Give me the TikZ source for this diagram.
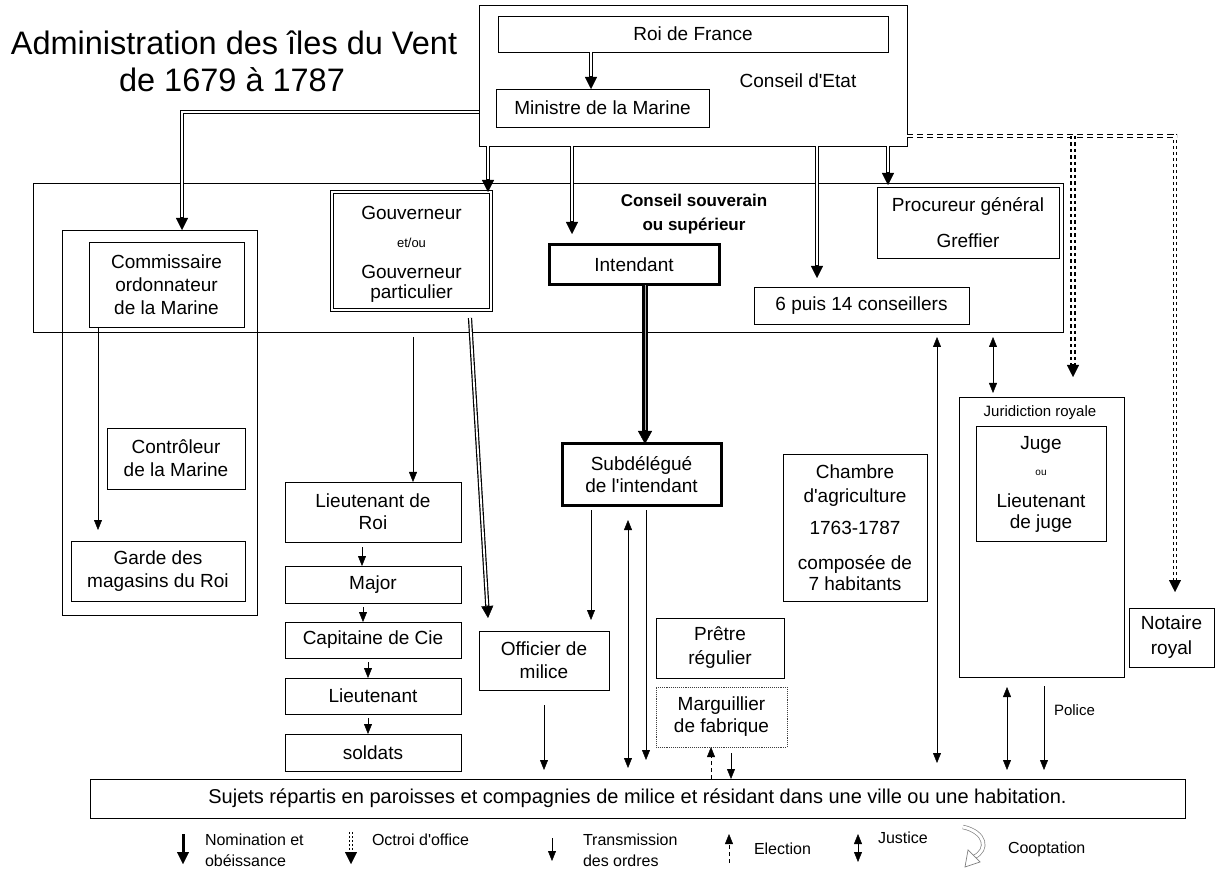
\documentclass[tikz,border=0pt]{standalone}
\usepackage{fontspec}
\setmainfont{Liberation Sans}[Ligatures=TeXOff]
\usetikzlibrary{arrows.meta,calc}
\begin{document}
\begin{tikzpicture}[x=1pt,y=-1pt,
  every node/.style={inner sep=0pt,outer sep=0pt},
  txt/.style={align=center,font=\fontsize{19}{22}\selectfont},
  box/.style={txt,draw,line width=0.9pt,fill=white},
  boldbox/.style={box,line width=3pt},
  dblbox/.style={box,double,double distance=1.8pt,line width=0.8pt},
  dotbox/.style={box,densely dotted,draw=black!75,line width=0.9pt},
  frame/.style={draw,line width=0.9pt},
  smalltxt/.style={align=center,font=\fontsize{13}{15}\selectfont},
  tinytxt/.style={align=center,font=\fontsize{10}{12}\selectfont},
  midtxt/.style={align=center,font=\fontsize{15}{17}\selectfont},
  leg/.style={align=left,font=\fontsize{16}{21}\selectfont},
  HeadBig/.tip={Triangle[length=12pt,width=12pt,line width=0.4pt]},
  HeadHuge/.tip={Triangle[length=13pt,width=14pt,line width=0.4pt]},
  HeadSmall/.tip={Triangle[length=10pt,width=8pt,line width=0.4pt]},
  nom/.style={line width=4.2pt,-HeadBig,postaction={draw=white,line width=1.8pt,shorten >=12.5pt,arrows=-}},
  nomthick/.style={line width=5.6pt,-HeadHuge,postaction={draw=black!35,line width=1pt,shorten >=14pt,arrows=-}},
  octh/.style={line width=4pt,dash pattern=on 6pt off 4pt,postaction={draw=white,solid,line width=2pt}},
  octv/.style={line width=4pt,dash pattern=on 3pt off 3pt,-HeadBig,postaction={draw=white,solid,line width=2pt,shorten >=12.5pt,arrows=-}},
  octheavy/.style={line width=5.6pt,dash pattern=on 3.5pt off 3pt,-HeadBig,postaction={draw=white,solid,line width=1.3pt,shorten >=12.5pt,arrows=-}},
  tr/.style={line width=0.9pt,-HeadSmall},
  ju/.style={line width=0.9pt,HeadSmall-HeadSmall},
  el/.style={line width=0.9pt,dash pattern=on 4pt off 3pt,-HeadSmall},
]
\useasboundingbox[fill=white] (0,0) rectangle (1216,874);

% title
\node[anchor=base,font=\fontsize{32.5}{37}\selectfont] (title1) at (234,55) {Administration des îles du Vent};
\node[anchor=base,font=\fontsize{32.5}{37}\selectfont] (title2) at (232,92) {de 1679 à 1787};

% frames
\node[frame,minimum width=1030pt,minimum height=149pt] (conseilsouv) at (548,257.5) {};
\node[frame,minimum width=195pt,minimum height=385pt] (leftcol) at (159.5,422.5) {};
\node[frame,minimum width=165pt,minimum height=280pt] (juridiction) at (1041.5,537) {};

% top box
\node[box,minimum width=428pt,minimum height=141pt] (topbox) at (693,75.5) {};
\node[box,minimum width=390pt,minimum height=36pt] (roi) at (693,34) {Roi de France};
\node[box,minimum width=213pt,minimum height=38pt] (ministre) at (602.5,108) {Ministre de la Marine};
\node[txt] (cetat) at (798,81) {Conseil d'Etat};

% conseil souverain
\node[align=center,font=\bfseries\fontsize{17}{24}\selectfont] (cslabel) at (694,214) {Conseil souverain\\ou supérieur};
\node[box,minimum width=155pt,minimum height=85pt,font=\fontsize{19}{23}\selectfont] (commissaire) at (166.5,284.5) {Commissaire\\ordonnateur\\de la Marine};
\node[dblbox,minimum width=159pt,minimum height=118pt] (gouv) at (411.5,251) {};
\node[txt] (gouv1) at (411.5,213) {Gouverneur};
\node[smalltxt] (gouv2) at (411.5,243) {et/ou};
\node[align=center,font=\fontsize{19}{20}\selectfont] (gouv3) at (411.5,284) {Gouverneur\\particulier};
\node[boldbox,minimum width=170pt,minimum height=40pt] (intendant) at (634,265) {Intendant};
\node[box,minimum width=215pt,minimum height=37pt] (conseillers) at (861.5,305.5) {6 puis 14 conseillers};
\node[box,minimum width=182pt,minimum height=71pt,font=\fontsize{19}{36}\selectfont] (procureur) at (968,222.5) {Procureur général\\Greffier};

% left column
\node[box,minimum width=138pt,minimum height=61pt,font=\fontsize{19}{23}\selectfont] (controleur) at (176,458.5) {Contrôleur\\de la Marine};
\node[box,minimum width=174pt,minimum height=60pt,font=\fontsize{19}{23}\selectfont] (garde) at (158,571) {Garde des\\magasins du Roi};

% military chain
\node[box,minimum width=176pt,minimum height=60pt] (lieutroi) at (373,512) {Lieutenant de\\Roi};
\node[box,minimum width=176pt,minimum height=37pt] (major) at (373,584.5) {Major};
\node[box,minimum width=176pt,minimum height=36pt] (capitaine) at (373,640) {Capitaine de Cie};
\node[box,minimum width=176pt,minimum height=36pt] (lieutenant) at (373,696) {Lieutenant};
\node[box,minimum width=176pt,minimum height=37pt] (soldats) at (373,752.5) {soldats};

% middle
\node[boldbox,minimum width=159pt,minimum height=61pt] (subdel) at (641.5,474.5) {Subdélégué\\de l'intendant};
\node[box,minimum width=130pt,minimum height=59pt,font=\fontsize{19}{23}\selectfont] (officier) at (544,660.5) {Officier de\\milice};
\node[box,minimum width=128pt,minimum height=60pt,font=\fontsize{19}{24}\selectfont] (pretre) at (720,648) {Prêtre\\régulier};
\node[dotbox,minimum width=131pt,minimum height=60pt] (marguillier) at (721.5,717) {Marguillier\\de fabrique};

% chambre
\node[box,minimum width=144pt,minimum height=147pt] (chambre) at (855,527.5) {};
\node[align=center,font=\fontsize{19}{24}\selectfont] (ch1) at (855,486) {Chambre\\d'agriculture};
\node[txt] (ch2) at (855,528) {1763-1787};
\node[align=center,font=\fontsize{19}{21}\selectfont] (ch3) at (855,573) {composée de\\7 habitants};

% juridiction
\node[midtxt] (jurlabel) at (1040,413) {Juridiction royale};
\node[box,minimum width=130pt,minimum height=115pt] (juge) at (1041,483.5) {};
\node[txt] (juge1) at (1041,445) {Juge};
\node[tinytxt] (juge2) at (1041,473) {ou};
\node[align=center,font=\fontsize{19}{21}\selectfont] (juge3) at (1041,513) {Lieutenant\\de juge};
\node[box,minimum width=85pt,minimum height=59pt,font=\fontsize{19}{25}\selectfont] (notaire) at (1171.5,637.5) {Notaire\\royal};
\node[midtxt,anchor=west] (police) at (1054,710) {Police};

% sujets
\node[box,minimum width=1095pt,minimum height=39pt,font=\fontsize{20}{22}\selectfont] (sujets) at (637.5,798.5) {Sujets répartis en paroisses et compagnies de milice et résidant dans une ville ou une habitation.};

% ---- connectors ----
\draw[nom] (roi.south -| 591,0) -- (ministre.north -| 591,0);
\draw[nom] (topbox.west |- 0,112) -| (leftcol.north -| 182,0);
\draw[nom] (topbox.south -| 488,0) -- (gouv.north -| 488,0);
\draw[nom] (topbox.south -| 572,0) -- ($(intendant.north -| 572,0)+(0,-11)$);
\draw[nom] (topbox.south -| 817,0) -- ($(conseillers.north -| 817,0)+(0,-9)$);
\draw[nom] (topbox.south -| 888,0) -- ($(procureur.north -| 888,0)+(0,-2)$);
\draw[nomthick] (intendant.south -| 645,0) -- (subdel.north -| 645,0);
\draw[nom] ($(gouv.south -| 470,0)+(0,8)$) -- ($(officier.north -| 488,0)+(0,-13)$);

\draw[tr] ($(conseilsouv.south -| 413,0)+(0,5)$) -- (lieutroi.north -| 413,0);
\draw[tr] (commissaire.south -| 98,0) -- ($(garde.north -| 98,0)+(0,-11)$);
\draw[tr] ($(lieutroi.south -| 362,0)+(0,5)$) -- (major.north -| 362,0);
\draw[tr] ($(major.south -| 363,0)+(0,4)$) -- (capitaine.north -| 363,0);
\draw[tr] ($(capitaine.south -| 368,0)+(0,4)$) -- (lieutenant.north -| 368,0);
\draw[tr] ($(lieutenant.south -| 368,0)+(0,4)$) -- (soldats.north -| 368,0);

\draw[tr] ($(subdel.south -| 591,0)+(0,5)$) -- ($(officier.north -| 591,0)+(0,-11)$);
\draw[ju] ($(subdel.south -| 628,0)+(0,15)$) -- ($(sujets.north -| 628,0)+(0,-11)$);
\draw[tr] ($(subdel.south -| 646,0)+(0,5)$) -- ($(sujets.north -| 646,0)+(0,-19)$);
\draw[tr] ($(officier.south)+(0,15)$) -- ($(sujets.north -| officier.south)+(0,-9)$);
\draw[el] (sujets.north -| 711,0) -- (marguillier.south -| 711,0);
\draw[tr] ($(marguillier.south -| 731,0)+(0,6)$) -- (sujets.north -| 731,0);
\draw[ju] ($(conseilsouv.south -| 937,0)+(0,5)$) -- ($(sujets.north -| 937,0)+(0,-16)$);
\draw[ju] ($(conseilsouv.south -| 993,0)+(0,5)$) -- ($(juridiction.north -| 993,0)+(0,-4)$);
\draw[ju] ($(juridiction.south -| 1007,0)+(0,10)$) -- ($(sujets.north -| 1007,0)+(0,-9)$);
\draw[tr] ($(juridiction.south -| 1044,0)+(0,9)$) -- ($(sujets.north -| 1044,0)+(0,-9)$);

\coordinate (octj) at (1073,136);
\coordinate (octc) at (1177,136);
\coordinate (octd) at (1175,134);
\draw[octv] (octd) -- ($(notaire.north -| octd)+(0,-16)$);
\draw[octh] (topbox.east |- octj) -- (octc);
\draw[octheavy] (octj) -- ($(juridiction.north -| octj)+(0,-20)$);

% ---- legend ----
\coordinate (l1a) at (183,834); \coordinate (l1b) at (183,864);
\draw[line width=3pt,-HeadBig] (l1a) -- (l1b);
\node[leg,anchor=west] (lt1) at (205,850) {Nomination et\\obéissance};
\coordinate (l2a) at (351,832); \coordinate (l2b) at (351,864);
\draw[line width=3.4pt,dash pattern=on 2pt off 2pt,-HeadBig,postaction={draw=white,solid,line width=1.4pt,shorten >=12.5pt,arrows=-}] (l2a) -- (l2b);
\node[leg,anchor=west] (lt2) at (372,840) {Octroi d'office};
\coordinate (l3a) at (552,838); \coordinate (l3b) at (552,861);
\draw[tr] (l3a) -- (l3b);
\node[leg,anchor=west] (lt3) at (583,850) {Transmission\\des ordres};
\coordinate (l4a) at (729,863); \coordinate (l4b) at (729,834);
\draw[el] (l4a) -- (l4b);
\node[leg,anchor=west] (lt4) at (754,849) {Election};
\coordinate (l5a) at (858,834); \coordinate (l5b) at (858,862);
\draw[ju] (l5a) -- (l5b);
\node[leg,anchor=west] (lt5) at (878,838) {Justice};
\draw[draw=gray,line width=0.7pt,double=white,double distance=3pt] (963,827) .. controls (986,832) and (989,850) .. (974,857);
\draw[draw=gray,line width=0.7pt,fill=white] (965,867) -- (968,850) -- (980,862) -- cycle;
\node[leg,anchor=west] (lt6) at (1008,849) {Cooptation};
\end{tikzpicture}
\end{document}
